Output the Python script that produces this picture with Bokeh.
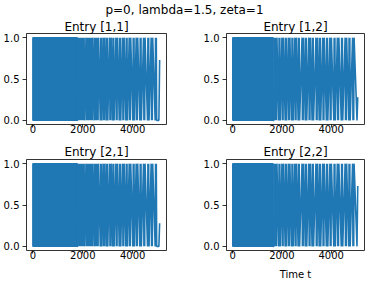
from bokeh.plotting import figure
from bokeh.layouts import column, row
from bokeh.models import Range1d, FixedTicker
from bokeh.core.properties import value
from bokeh.embed import file_html
from bokeh.resources import INLINE

# ---- data ----
suptitle = "p=0, lambda=1.5, zeta=1"
panel_titles = ["Entry [1,1]", "Entry [1,2]", "Entry [2,1]", "Entry [2,2]"]
x_ticks = [0, 2000, 4000]
y_ticks = [0.0, 0.5, 1.0]
t_start = 0
t_end = 5080
# end of the densely oscillating block (time t)
dense_end = [1780, 1640, 1780, 1640]
# positions of the resolved oscillation peaks after the dense block
stripes_a = [1825, 1932, 2039, 2159, 2265, 2372, 2492, 2598, 2732, 2852, 2972,
             3105, 3225, 3358, 3492, 3625, 3758, 3891, 4038, 4171, 4318, 4465,
             4625, 4771, 4931]
stripes_b = [1700, 1765, 1897, 2029, 2160, 2292, 2424, 2555, 2687, 2846, 2977,
             3122, 3254, 3412, 3544, 3689, 3834, 3979, 4137, 4282, 4440, 4598,
             4743, 4901]
panel_stripes = [stripes_a, stripes_b, stripes_a, stripes_b]
end_values = [0.73, 0.28, 0.28, 0.73]
y_low, y_high = 0.0, 1.0

BLUE = "#1f77b4"
FONT = "DejaVu Sans"
TOTAL_W = 358


def build_path(d_end, stripes, end_val):
    xs, ys = [d_end], [y_low]
    half = 30
    for i, s in enumerate(stripes):
        if i % 2 == 0:
            seq = [y_low, y_high, y_low, y_high, y_low]
        else:
            seq = [y_high, y_low, y_high, y_low, y_high]
        xs += [s - half, s - half / 2, s, s + half / 2, s + half]
        ys += seq
    xs += [t_end - 30, t_end]
    ys += [y_low, end_val]
    return xs, ys


def make_panel(idx, fw, bl, br, bt, bb, standoff, xlabel=None):
    p = figure(frame_width=fw, frame_height=91, output_backend="svg",
               toolbar_location=None, min_border_left=bl, min_border_right=br,
               min_border_top=bt, min_border_bottom=bb,
               x_range=Range1d(-255, 5355), y_range=Range1d(-0.05, 1.05))
    p.title.text = panel_titles[idx]
    p.title.align = "center"
    p.title.text_font = FONT
    p.title.text_font_size = "12px"
    p.title.text_font_style = "normal"
    p.title.text_color = "black"
    p.title.standoff = standoff
    p.grid.visible = False
    p.outline_line_color = "black"
    p.outline_line_width = 0.8
    p.background_fill_color = "white"
    p.border_fill_color = "white"
    for ax in (p.xaxis[0], p.yaxis[0]):
        ax.axis_line_color = None
        ax.major_tick_in = 0
        ax.major_tick_out = 4
        ax.minor_tick_line_color = None
        ax.major_tick_line_color = "black"
        ax.major_tick_line_width = 0.8
        ax.major_label_text_font = FONT
        ax.major_label_text_font_size = "10px"
        ax.major_label_text_color = "black"
        ax.major_label_standoff = 3
    p.xaxis.major_tick_out = 3
    p.xaxis.major_label_standoff = -3
    p.xaxis.ticker = FixedTicker(ticks=x_ticks)
    p.yaxis.ticker = FixedTicker(ticks=y_ticks)
    p.yaxis.major_label_overrides = {v: f"{v:.1f}" for v in y_ticks}
    if xlabel:
        p.xaxis.axis_label = xlabel
        p.xaxis.axis_label_text_font = FONT
        p.xaxis.axis_label_text_font_size = "10px"
        p.xaxis.axis_label_text_font_style = "normal"
        p.xaxis.axis_label_text_color = "black"
        p.xaxis.axis_label_standoff = 7
    # dense oscillation block
    p.quad(left=[t_start], right=[dense_end[idx]], bottom=[y_low], top=[y_high],
           fill_color=BLUE, line_color=BLUE, line_width=1.5)
    xs, ys = build_path(dense_end[idx], panel_stripes[idx], end_values[idx])
    p.line(xs, ys, line_color=BLUE, line_width=1.6)
    return p


# suptitle strip
ST_H = 17
st = figure(width=TOTAL_W, height=ST_H, output_backend="svg", toolbar_location=None,
            min_border=0, x_range=Range1d(0, TOTAL_W), y_range=Range1d(0, ST_H))
st.axis.visible = False
st.grid.visible = False
st.outline_line_color = None
st.text(x=[184], y=[0.5], text=[suptitle], text_font=value(FONT),
        text_font_size="12px", text_color="black", text_align="center",
        text_baseline="bottom")

p11 = make_panel(0, 140, 22, 34, 14, 17, 0)
p12 = make_panel(1, 138, 22, 2, 14, 17, 0)
p21 = make_panel(2, 140, 22, 34, 18, 23, 2)
p22 = make_panel(3, 138, 22, 2, 18, 23, 2, xlabel="Time t")

layout = column(st, row(p11, p12, spacing=0), row(p21, p22, spacing=0), spacing=0)

open("out.html", "w").write(file_html(layout, INLINE))
